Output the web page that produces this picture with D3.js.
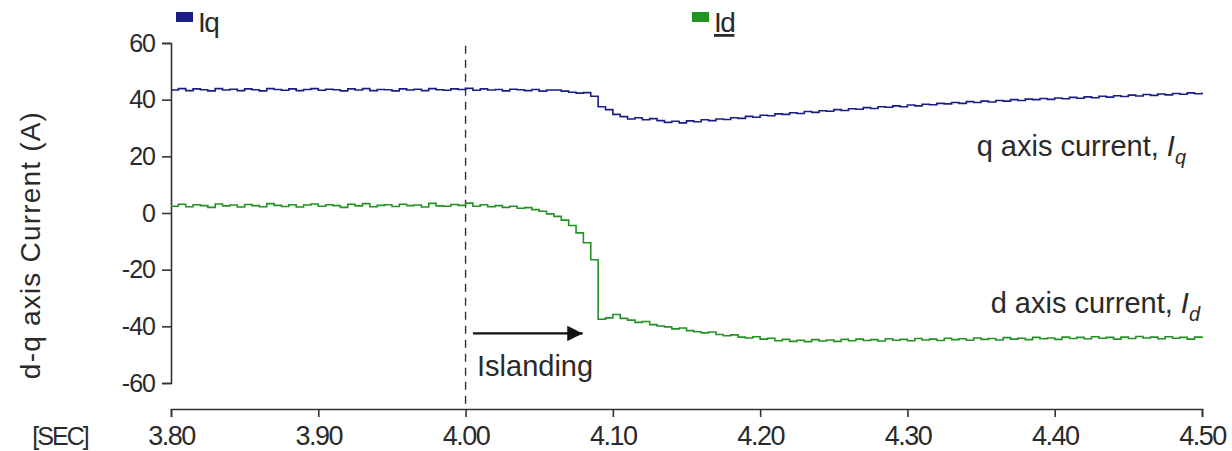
<!DOCTYPE html>
<html>
  <head>
    <meta charset="utf-8">
    <title>d-q axis current</title>
    <script src="https://cdnjs.cloudflare.com/ajax/libs/d3/7.8.5/d3.min.js"></script>
    <style>
      body { margin: 0; background: #fff; }
      svg text { font-family: "Liberation Sans", Arial, sans-serif; fill: #2a2a2a; }
    </style>
  </head>
  <body>

    <svg class="chart" width="1232" height="451"></svg>

    <script>

      // sampling of the recorded signals (seconds)
      var sampleStart = 3.80;
      var sampleStep = 0.005;

      var xTicks = [3.80, 3.90, 4.00, 4.10, 4.20, 4.30, 4.40, 4.50];
      var yTicks = [-60, -40, -20, 0, 20, 40, 60];
      var seriesNames = ['Iq', 'Id'];
      var islandingTime = 4.00;

      // q axis current
      var iq = [
        43.4,43.9,43.2,43.8,43.5,43.1,43.9,43.4,43.7,43.2,
        43.8,43.5,43.1,43.9,43.6,43.3,43.8,43.2,43.6,43.9,
        43.3,43.7,43.5,43.1,43.8,43.4,43.9,43.2,43.6,43.5,
        43.1,43.8,43.4,43.7,43.2,43.9,43.5,43.3,43.8,43.6,
        44.0,43.3,43.8,43.4,43.6,43.1,43.7,43.5,43.2,43.6,
        43.0,43.4,43.4,43.0,42.6,42.3,42.5,41.2,37.5,36.5,
        34.8,34.0,33.2,33.6,32.9,33.3,32.6,32.0,32.4,31.8,
        32.5,32.2,32.9,32.6,33.2,33.0,33.6,33.4,34.1,33.8,
        34.5,34.3,35.0,34.8,35.4,35.1,35.8,35.5,36.1,35.9,
        36.5,36.2,36.8,36.6,37.2,36.9,37.5,37.3,37.8,37.5,
        38.1,37.8,38.4,38.2,38.7,38.5,39.0,38.7,39.3,39.0,
        39.5,39.2,39.7,39.5,40.0,39.7,40.2,40.0,40.4,40.1,
        40.6,40.3,40.8,40.5,41.0,40.7,41.2,40.9,41.4,41.1,
        41.6,41.3,41.8,41.5,42.0,41.7,42.2,41.9,42.4,42.1,
        42.5
      ];

      // d axis current
      var id = [
        2.4,3.1,2.2,2.9,2.6,2.0,3.2,2.5,2.8,2.1,
        3.0,2.6,2.2,3.3,2.7,2.3,2.9,2.1,2.8,3.2,
        2.4,2.9,2.6,2.0,3.1,2.5,3.3,2.2,2.7,2.9,
        2.3,3.1,2.6,2.8,2.1,3.4,2.5,2.4,3.0,2.7,
        3.5,2.4,2.9,2.2,2.6,2.0,2.4,1.7,1.9,1.2,
        0.6,-0.3,-1.2,-2.5,-4.4,-7.0,-10.5,-16.5,-37.5,-37.0,
        -35.8,-37.2,-37.8,-38.6,-38.3,-39.4,-39.9,-40.2,-40.9,-40.6,
        -41.5,-41.9,-42.3,-42.0,-42.9,-43.3,-43.0,-43.8,-44.1,-43.7,
        -44.5,-44.2,-45.1,-44.6,-45.3,-44.9,-45.4,-44.7,-45.2,-44.8,
        -45.3,-44.6,-45.1,-44.5,-45.0,-44.7,-45.2,-44.4,-44.9,-44.6,
        -45.1,-44.3,-44.8,-44.5,-45.0,-44.2,-44.7,-44.4,-44.9,-44.1,
        -44.6,-44.3,-44.8,-44.0,-44.5,-44.2,-44.7,-43.9,-44.4,-44.1,
        -44.6,-43.8,-44.3,-43.9,-44.4,-43.7,-44.2,-43.9,-44.5,-43.8,
        -44.3,-43.6,-44.1,-43.8,-44.4,-43.7,-44.2,-43.9,-44.5,-43.8,
        -44.2
      ];

      var colors = { Iq: '#1c1c86', Id: '#229322' };

      var svg = d3.select('svg.chart');

      var x = d3.scaleLinear().domain([3.80, 4.50]).range([171, 1202]);
      var y = d3.scaleLinear().domain([-60, 60]).range([383, 43]);

      function toPoints(values) {
        return values.map(function(v, i) {
          return { t: sampleStart + i * sampleStep, v: v };
        });
      }

      // y axis (plain hyphen for negatives, as in the scan)
      var yAxis = svg.append('g')
        .attr('transform', 'translate(' + x.range()[0] + ',0)')
        .call(d3.axisLeft(y).tickValues(yTicks).tickSize(9).tickPadding(7)
          .tickFormat(function(d) { return String(d); }));
      yAxis.selectAll('text').style('font-size', '25px').style('letter-spacing', '-1px');

      // x axis, drawn below the plot area
      var xAxis = svg.append('g')
        .attr('transform', 'translate(0,409)')
        .call(d3.axisBottom(x).tickValues(xTicks).tickSize(8).tickPadding(9)
          .tickFormat(d3.format('.2f')));
      xAxis.selectAll('text').style('font-size', '27px').style('letter-spacing', '-1.5px');

      svg.selectAll('.domain, .tick line')
        .attr('stroke', '#333')
        .attr('stroke-width', 1.6);

      svg.append('text')
        .attr('x', 60).attr('y', 445)
        .attr('text-anchor', 'middle')
        .style('font-size', '25px')
        .style('letter-spacing', '-2px')
        .text('[SEC]');

      svg.append('text')
        .attr('transform', 'translate(40,245) rotate(-90)')
        .attr('text-anchor', 'middle')
        .style('font-size', '28px')
        .style('letter-spacing', '1.2px')
        .text('d-q axis Current (A)');

      // islanding instant
      svg.append('line')
        .attr('x1', x(islandingTime)).attr('x2', x(islandingTime))
        .attr('y1', y(59)).attr('y2', 404)
        .attr('stroke', '#333')
        .attr('stroke-width', 1.4)
        .attr('stroke-dasharray', '8,6');

      // traces
      var line = d3.line()
        .x(function(d) { return x(d.t); })
        .y(function(d) { return y(d.v); })
        .curve(d3.curveStepAfter);

      svg.append('path')
        .datum(toPoints(iq))
        .attr('fill', 'none')
        .attr('stroke', colors.Iq)
        .attr('stroke-width', 1.6)
        .attr('d', line);

      svg.append('path')
        .datum(toPoints(id))
        .attr('fill', 'none')
        .attr('stroke', colors.Id)
        .attr('stroke-width', 1.6)
        .attr('d', line);

      // arrow + label
      svg.append('defs').append('marker')
        .attr('id', 'head')
        .attr('viewBox', '0 0 10 10')
        .attr('refX', 10).attr('refY', 5)
        .attr('markerWidth', 7).attr('markerHeight', 7)
        .attr('markerUnits', 'strokeWidth')
        .attr('orient', 'auto')
        .append('path')
          .attr('d', 'M0,0L10,5L0,10z')
          .attr('fill', '#111');

      svg.append('line')
        .attr('x1', x(4.005)).attr('x2', x(4.0795))
        .attr('y1', y(-42.5)).attr('y2', y(-42.5))
        .attr('stroke', '#111')
        .attr('stroke-width', 2.2)
        .attr('marker-end', 'url(#head)');

      svg.append('text')
        .attr('x', 477).attr('y', 376)
        .style('font-size', '29px')
        .text('Islanding');

      // curve labels
      var qLabel = svg.append('text')
        .attr('x', 1186).attr('y', 156)
        .attr('text-anchor', 'end')
        .style('font-size', '29px');
      qLabel.append('tspan').text('q axis current, ');
      qLabel.append('tspan').style('font-style', 'italic').text('I');
      qLabel.append('tspan').attr('dy', 8).style('font-size', '20px').style('font-style', 'italic').text('q');

      var dLabel = svg.append('text')
        .attr('x', 1200).attr('y', 313)
        .attr('text-anchor', 'end')
        .style('font-size', '29px');
      dLabel.append('tspan').text('d axis current, ');
      dLabel.append('tspan').style('font-style', 'italic').text('I');
      dLabel.append('tspan').attr('dy', 8).style('font-size', '20px').style('font-style', 'italic').text('d');

      // legend
      var legend = svg.append('g')
        .selectAll('g')
        .data(seriesNames)
        .enter()
          .append('g')
            .attr('transform', function(d, i) { return 'translate(' + [176, 692][i] + ',0)'; });

      legend.append('rect')
        .attr('x', 0).attr('y', 12)
        .attr('width', 17).attr('height', 10)
        .attr('fill', function(d) { return colors[d]; });

      legend.append('text')
        .attr('x', 22).attr('y', 32)
        .style('font-size', '28px')
        .style('letter-spacing', '-1.5px')
        .style('text-decoration', function(d) { return d === 'Id' ? 'underline' : null; })
        .text(function(d) { return d; });

    </script>
  </body>
</html>
